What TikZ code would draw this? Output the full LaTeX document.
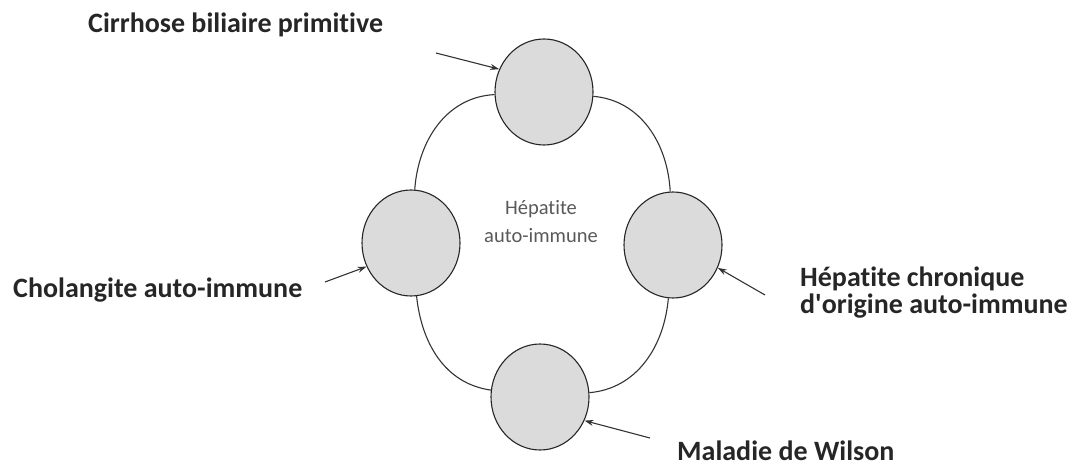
\documentclass[tikz,border=0pt]{standalone}
\usepackage{fontspec}
\setmainfont{Carlito}[Ligatures=NoCommon]
\usetikzlibrary{shapes.geometric,arrows.meta}

\begin{document}
\begin{tikzpicture}[x=1pt,y=1pt,
  disease/.style={ellipse,draw=black!85,line width=1.1pt,fill=black!14,
    minimum width=98pt,minimum height=106pt,inner sep=0pt},
  ring/.style={draw=black!80,line width=1.1pt},
  pointer/.style={draw=black!80,line width=1.1pt,-{Stealth[length=9pt,width=6pt]}},
  label/.style={font=\fontsize{28}{27}\selectfont\bfseries,text=black!85,inner sep=0pt}]
\useasboundingbox (0,0) rectangle (1083,466);

% the four circles
\node[disease] (top) at (544,374) {};
\node[disease] (left) at (411,223) {};
\node[disease] (right) at (673,221) {};
\node[disease] (bottom) at (540,69) {};

% ring joining them
\draw[ring] (top) to[out=183,in=86] (left);
\draw[ring] (top) to[out=-5,in=93] (right);
\draw[ring] (left) to[out=-84,in=172] (bottom);
\draw[ring] (right) to[out=-95,in=5] (bottom);

% centre text
\node[font=\fontsize{20.5}{28}\selectfont,text=black!65,align=center,anchor=base] (centre) at (541,223)
  {Hépatite\\auto-immune};

% labels
\node[label,anchor=base west] (cbp) at (88,433) {Cirrhose biliaire primitive};
\node[label,anchor=base west] (cai) at (13,168) {Cholangite auto-immune};
\node[label,anchor=base west,align=left] (hca) at (800,153)
  {Hépatite chronique\\d\textquotesingle origine auto-immune};
\node[label,anchor=base west] (wil) at (677,6) {Maladie de Wilson};

% arrows
\coordinate (cbp-tail) at (436,413);
\coordinate (cai-tail) at (325,184);
\coordinate (hca-tail) at (765,171);
\coordinate (wil-tail) at (650,28);
\draw[pointer] (cbp-tail) -- (top.153);
\draw[pointer] (cai-tail) -- (left.208);
\draw[pointer] (hca-tail) -- (right.333);
\draw[pointer] (wil-tail) -- (bottom.332);
\end{tikzpicture}
\end{document}
